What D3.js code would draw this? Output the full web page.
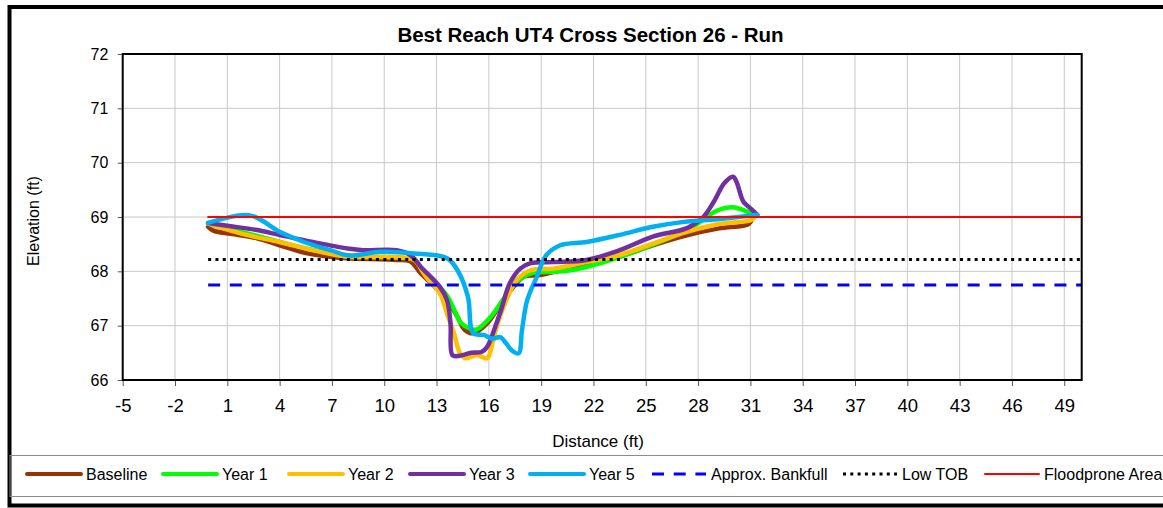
<!DOCTYPE html>
<html>
<head>
<meta charset="utf-8">
<script src="https://cdn.jsdelivr.net/npm/d3@7"></script>
<style>
  html, body { margin: 0; padding: 0; background: #fff; }
  svg { display: block; font-family: "Liberation Sans", Arial, sans-serif; }
</style>
</head>
<body>
<svg id="chart" width="1163" height="508"></svg>
<script>
// Survey points [distance (ft), elevation (ft)] for each year
const baseline = [[-0.1,68.82],[0.2,68.75],[1.2,68.69],[2.7,68.61],[4.0,68.48],[5.6,68.33],[6.9,68.27],[7.9,68.24],[10.7,68.21],[11.5,68.18],[12.1,67.96],[12.8,67.75],[13.6,67.47],[14.2,67.16],[14.6,66.93],[15.1,66.86],[15.9,67.04],[16.7,67.41],[17.4,67.71],[18.0,67.90],[18.9,67.93],[20.1,68.02],[21.6,68.11],[23.5,68.27],[25.4,68.48],[27.3,68.66],[29.2,68.79],[30.9,68.87],[31.1,68.97]];
const year1 = [[-0.1,68.88],[1.0,68.79],[3.0,68.63],[5.0,68.46],[7.0,68.33],[9.0,68.27],[11.0,68.25],[11.8,68.2],[12.2,68.0],[12.9,67.8],[13.6,67.55],[14.0,67.3],[14.4,67.05],[14.9,66.95],[15.3,66.93],[16.1,67.16],[16.8,67.47],[17.6,67.81],[18.4,67.96],[19.7,67.99],[20.7,68.02],[22.6,68.17],[24.5,68.38],[26.4,68.62],[27.5,68.78],[28.2,68.93],[29.1,69.12],[30.0,69.18],[30.8,69.1],[31.2,69.04]];
const year2 = [[-0.1,68.88],[2.1,68.67],[4.0,68.54],[5.9,68.39],[7.9,68.27],[10.7,68.26],[11.7,68.21],[12.4,67.9],[13.2,67.59],[13.6,67.22],[14.0,66.86],[14.35,66.49],[14.7,66.40],[15.3,66.46],[15.9,66.40],[16.2,66.67],[16.5,67.04],[17.0,67.47],[17.6,67.84],[18.4,68.02],[19.7,68.05],[21.6,68.17],[23.5,68.30],[25.4,68.51],[27.4,68.73],[29.2,68.87],[31.0,68.94],[31.2,68.98]];
const year3 = [[-0.1,68.89],[1.2,68.83],[2.7,68.76],[4.0,68.67],[5.9,68.54],[7.9,68.42],[8.8,68.39],[10.7,68.39],[11.5,68.30],[12.1,68.08],[13.2,67.71],[13.6,67.47],[13.8,67.04],[13.9,66.46],[14.2,66.44],[15.0,66.50],[15.6,66.52],[15.9,66.61],[16.3,66.92],[16.7,67.29],[17.2,67.78],[17.8,68.05],[18.4,68.15],[19.7,68.17],[21.6,68.21],[23.5,68.39],[25.4,68.64],[27.4,68.8],[28.3,69.0],[28.9,69.28],[29.5,69.62],[30.0,69.74],[30.2,69.65],[30.6,69.28],[31.0,69.16],[31.4,69.04]];
const year5 = [[-0.1,68.89],[2.3,69.03],[4.0,68.73],[5.4,68.54],[6.9,68.39],[8.0,68.29],[9.8,68.36],[11.7,68.33],[13.6,68.24],[14.2,68.02],[14.8,67.53],[15.1,66.86],[15.7,66.83],[16.2,66.76],[16.65,66.79],[17.0,66.67],[17.3,66.55],[17.7,66.49],[17.9,66.92],[18.2,67.47],[18.75,67.90],[19.3,68.30],[20.1,68.48],[21.6,68.54],[23.5,68.67],[25.4,68.82],[27.2,68.91],[29.1,68.96],[31.4,69.04]];

// Reference elevations
const bankfull = [[-0.1,67.75],[50,67.75]];
const lowTOB = [[-0.1,68.22],[50,68.22]];
const floodprone = [[-0.1,69.0],[50,69.0]];

const xTicks = [-5,-2,1,4,7,10,13,16,19,22,25,28,31,34,37,40,43,46,49];
const yTicks = [66,67,68,69,70,71,72];
const seriesNames = ["Baseline","Year 1","Year 2","Year 3","Year 5","Approx. Bankfull","Low TOB","Floodprone Area"];

const svg = d3.select("#chart");
const plot = {left: 122.7, right: 1081.7, top: 54, bottom: 380};

const x = d3.scaleLinear().domain([-5, 50]).range([plot.left, plot.right]);
const y = d3.scaleLinear().domain([66, 72]).range([plot.bottom, plot.top]);

// Outer frame and legend box
svg.append("rect").attr("x", 9.5).attr("y", 7).attr("width", 1170).attr("height", 498.5)
  .attr("fill", "none").attr("stroke", "#000").attr("stroke-width", 4);
svg.append("rect").attr("x", 10).attr("y", 455.5).attr("width", 1170).attr("height", 41)
  .attr("fill", "none").attr("stroke", "#8c8c8c").attr("stroke-width", 1);

// Title
svg.append("text").attr("x", 590.5).attr("y", 41.7).attr("text-anchor", "middle")
  .attr("font-size", "20.5px").attr("font-weight", "bold").attr("fill", "#000")
  .text("Best Reach UT4 Cross Section 26 - Run");

// Gridlines
const grid = svg.append("g").attr("stroke", "#c8c8c8").attr("stroke-width", 1);
grid.selectAll("line.v").data(xTicks).join("line").attr("class", "v")
  .attr("x1", d => x(d)).attr("x2", d => x(d)).attr("y1", plot.top).attr("y2", plot.bottom);
grid.selectAll("line.h").data(yTicks).join("line").attr("class", "h")
  .attr("x1", plot.left).attr("x2", plot.right).attr("y1", d => y(d)).attr("y2", d => y(d));

// Axes (plain hyphen for negative numbers)
const fmt = d => String(d);
const xAxis = svg.append("g").attr("transform", `translate(0,${plot.bottom})`)
  .call(d3.axisBottom(x).tickValues(xTicks).tickSize(6).tickPadding(12.5).tickFormat(fmt));
xAxis.select(".domain").remove();
xAxis.selectAll(".tick line").attr("stroke", "#555");
xAxis.selectAll(".tick text").attr("font-size", "18.5px").attr("fill", "#000")
  .attr("font-family", "Liberation Sans, Arial, sans-serif");

const yAxis = svg.append("g").attr("transform", `translate(${plot.left},0)`)
  .call(d3.axisLeft(y).tickValues(yTicks).tickSize(5).tickPadding(9.4).tickFormat(fmt));
yAxis.select(".domain").remove();
yAxis.selectAll(".tick line").attr("stroke", "#555");
yAxis.selectAll(".tick text").attr("font-size", "16px").attr("fill", "#000")
  .attr("font-family", "Liberation Sans, Arial, sans-serif");

// Axis titles
svg.append("text").attr("x", 598).attr("y", 447).attr("text-anchor", "middle")
  .attr("font-size", "17px").attr("fill", "#000").text("Distance (ft)");
svg.append("text").attr("transform", "translate(39,221) rotate(-90)").attr("text-anchor", "middle")
  .attr("font-size", "16px").attr("fill", "#000").text("Elevation (ft)");

// Clip to plotting area
svg.append("clipPath").attr("id", "plotClip").append("rect")
  .attr("x", plot.left).attr("y", plot.top - 10)
  .attr("width", plot.right - plot.left).attr("height", plot.bottom - plot.top + 10);

const smooth = d3.line().x(d => x(d[0])).y(d => y(d[1])).curve(d3.curveCatmullRom.alpha(0.5));
const straight = d3.line().x(d => x(d[0])).y(d => y(d[1]));

const styles = [
  {data: baseline, color: "#993300", width: 4.5, dash: null, gen: smooth},
  {data: year1, color: "#00ff00", width: 4.5, dash: null, gen: smooth},
  {data: year2, color: "#ffc000", width: 4.5, dash: null, gen: smooth},
  {data: year3, color: "#7030a0", width: 4.5, dash: null, gen: smooth},
  {data: year5, color: "#00b0f0", width: 4.5, dash: null, gen: smooth},
  {data: bankfull, color: "#0000ff", width: 3, dash: "12,9.7", gen: straight},
  {data: lowTOB, color: "#000000", width: 3, dash: "3,4.3", gen: straight},
  {data: floodprone, color: "#ff0000", width: 2, dash: null, gen: straight}
];

const lines = svg.append("g").attr("clip-path", "url(#plotClip)");
styles.forEach(s => {
  lines.append("path").attr("d", s.gen(s.data)).attr("fill", "none")
    .attr("stroke", s.color).attr("stroke-width", s.width)
    .attr("stroke-linejoin", "round").attr("stroke-linecap", s.dash ? "butt" : "round")
    .attr("stroke-dasharray", s.dash);
});

// Plot area border
svg.append("rect").attr("x", plot.left).attr("y", plot.top)
  .attr("width", plot.right - plot.left).attr("height", plot.bottom - plot.top)
  .attr("fill", "none").attr("stroke", "#000").attr("stroke-width", 2);

// Legend
const legendStarts = [27, 163, 289, 410, 530, 652, 843, 985];
const legendY = 474;
const legend = svg.append("g");
styles.forEach((s, i) => {
  const x0 = legendStarts[i];
  legend.append("line").attr("x1", x0).attr("x2", x0 + 54).attr("y1", legendY).attr("y2", legendY)
    .attr("stroke", s.color).attr("stroke-width", s.dash ? 3 : (i === 7 ? 2 : 4))
    .attr("stroke-linecap", s.dash ? "butt" : "round").attr("stroke-dasharray", s.dash);
  legend.append("text").attr("x", x0 + 59).attr("y", legendY + 5.5)
    .attr("font-size", "16px").attr("fill", "#000").text(seriesNames[i]);
});
</script>
</body>
</html>
